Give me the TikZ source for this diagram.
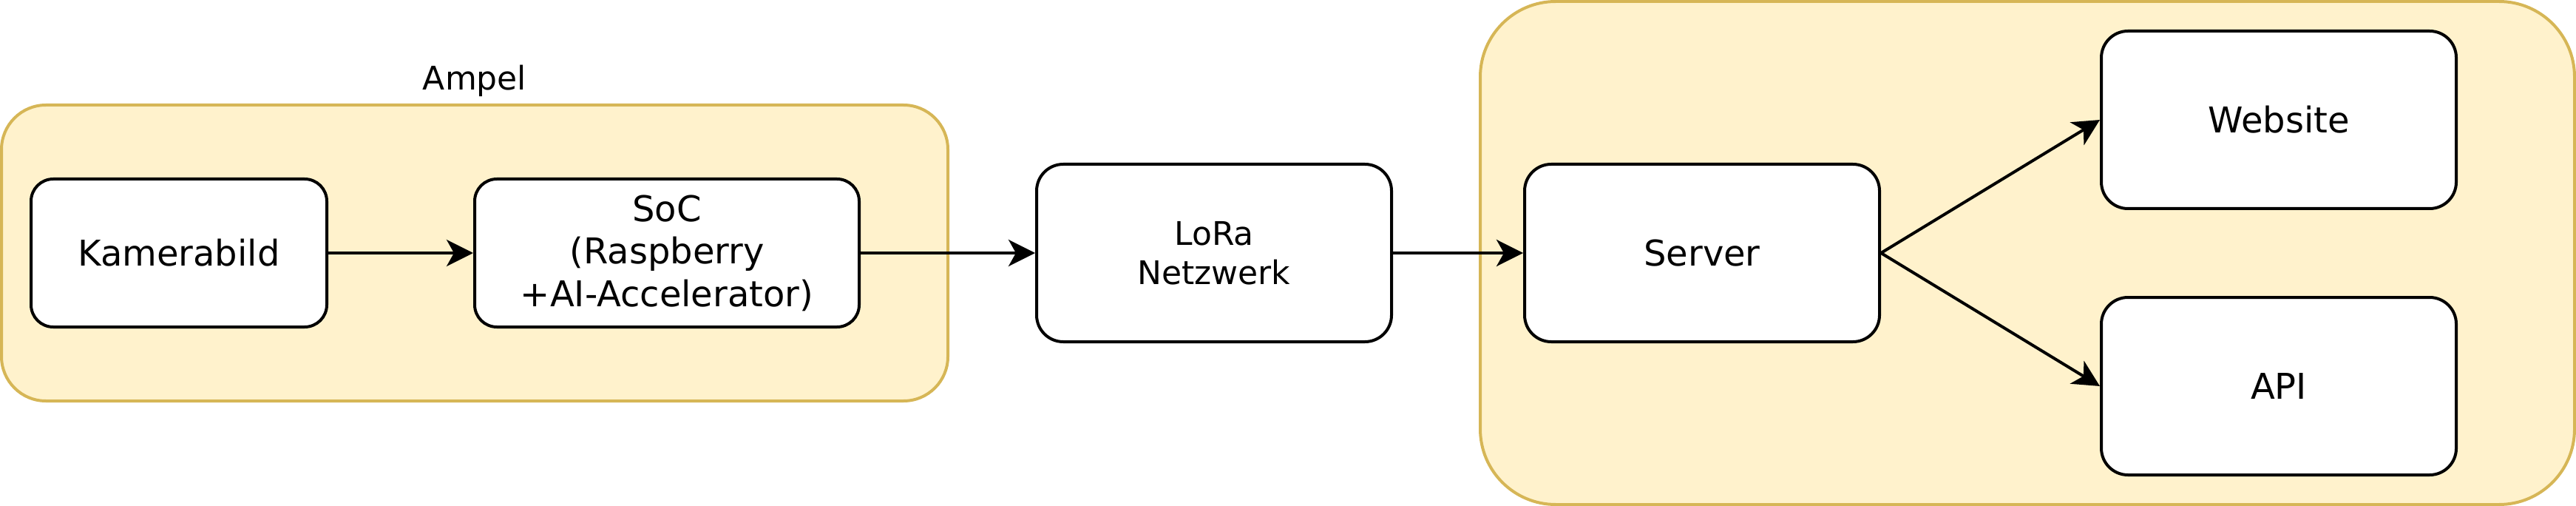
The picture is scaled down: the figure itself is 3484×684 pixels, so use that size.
\documentclass[tikz,border=0pt]{standalone}
\usepackage{fontspec}
\setmainfont{DejaVu Sans}
\usetikzlibrary{arrows.meta}
\definecolor{contfill}{HTML}{FFF2CC}
\definecolor{contline}{HTML}{D6B656}
\begin{document}
\begin{tikzpicture}[x=1pt,y=-1pt,
  box/.style={draw=black, fill=white, line width=4pt, rectangle, inner sep=0pt, align=center, font=\fontsize{48}{57.6}\selectfont},
  smallbox/.style={box, font=\fontsize{44}{52.8}\selectfont},
  cont/.style={draw=contline, fill=contfill, line width=4pt, rectangle, inner sep=0pt},
  lbl/.style={inner sep=0pt, font=\fontsize{44}{52.8}\selectfont},
  arr/.style={line width=4pt, -{Stealth[length=36pt,width=36pt,inset=10pt]}}]
\useasboundingbox (0,0) rectangle (3484,684);
% containers
\node[cont, minimum width=1280, minimum height=400, rounded corners=60] (ampel) at (642,342) {};
\node[cont, minimum width=1480, minimum height=680, rounded corners=102] (srv) at (2742,342) {};
\node[lbl, anchor=base] (ampellbl) at (642,122) {Ampel};
% boxes
\node[box, minimum width=400, minimum height=200, rounded corners=30] (kam) at (242,342) {Kamerabild};
\node[box, minimum width=520, minimum height=200, rounded corners=30] (soc) at (902,342) {SoC\\(Raspberry\\+AI-Accelerator)};
\node[smallbox, minimum width=480, minimum height=240, rounded corners=36] (lora) at (1642,342) {LoRa\\Netzwerk};
\node[box, minimum width=480, minimum height=240, rounded corners=36] (server) at (2302,342) {Server};
\node[box, minimum width=480, minimum height=240, rounded corners=36] (web) at (3082,162) {Website};
\node[box, minimum width=480, minimum height=240, rounded corners=36] (api) at (3082,522) {API};
% connectors
\draw[arr] (kam.east) -- (soc.west);
\draw[arr] (soc.east) -- (lora.west);
\draw[arr] (lora.east) -- (server.west);
\draw[arr] (server.east) -- (web.west);
\draw[arr] (server.east) -- (api.west);
\end{tikzpicture}
\end{document}
